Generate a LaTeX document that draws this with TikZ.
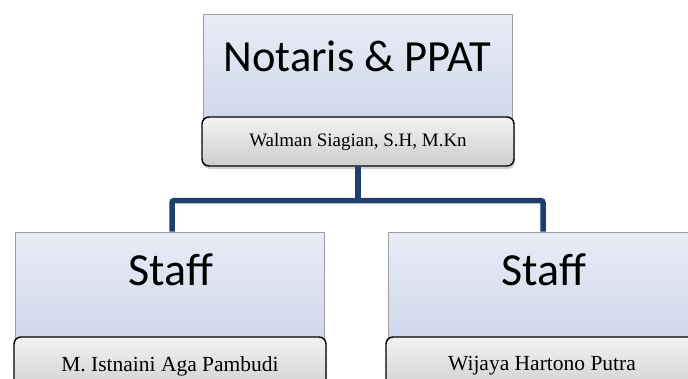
\documentclass[tikz,border=0pt]{standalone}
\usepackage{fontspec}
\setmainfont{Liberation Serif}
\newfontfamily\calfont{Carlito}
\usetikzlibrary{shadows}
\definecolor{conncol}{HTML}{1D3F6D}
\definecolor{boxtop}{HTML}{E9ECF6}
\definecolor{boxbot}{HTML}{CBD3E9}
\definecolor{nametop}{HTML}{F3F3F3}
\definecolor{namebot}{HTML}{CDCDCD}
\begin{document}
\begin{tikzpicture}[x=1pt,y=-1pt,
  titlebox/.style={draw=gray!75, line width=1pt, top color=boxtop, bottom color=boxbot,
    minimum width=309pt, minimum height=128pt, inner sep=0pt},
  namebox/.style={draw=black, line width=1.4pt, rounded corners=7pt, top color=nametop, bottom color=namebot,
    minimum width=312pt, minimum height=49pt, inner sep=0pt,
    drop shadow={opacity=0.35, shadow xshift=1pt, shadow yshift=-3pt},
    font=\fontsize{19}{22}\selectfont},
  staffname/.style={namebox, minimum height=58pt, font=\fontsize{21.5}{25}\selectfont},
  titletext/.style={inner sep=0pt, font=\calfont\fontsize{44.5}{50}\selectfont},
  stafftext/.style={inner sep=0pt, font=\calfont\fontsize{46}{52}\selectfont},
  connector/.style={draw=conncol, line width=5.5pt, rounded corners=2pt}]
\useasboundingbox (0,0) rectangle (688,378);
\fill[white] (0,0) rectangle (688,378);
% top
\node[titlebox] (topbox) at (357.5,78) {};
\node[titletext, anchor=base] (toptitle) at (357.5,71) {Notaris \& PPAT};
\node[namebox] (topname) at (358,141.5) {Walman Siagian, S.H, M.Kn};
% left staff
\node[titlebox] (lbox) at (170,296) {};
\node[stafftext, anchor=base] (ltitle) at (171,285) {Staff};
\node[staffname] (lname) at (170,366) {M. Istnaini Aga Pambudi};
% right staff
\node[titlebox] (rbox) at (543,296) {};
\node[stafftext, anchor=base] (rtitle) at (544,285) {Staff};
\node[staffname] (rname) at (542,366) {Wijaya Hartono Putra};
% connectors
\draw[connector] (topname.south) -- ++(0,34) coordinate (junction);
\draw[connector] ([xshift=2pt]lbox.north) |- (junction) -| (rbox.north);
\end{tikzpicture}
\end{document}
